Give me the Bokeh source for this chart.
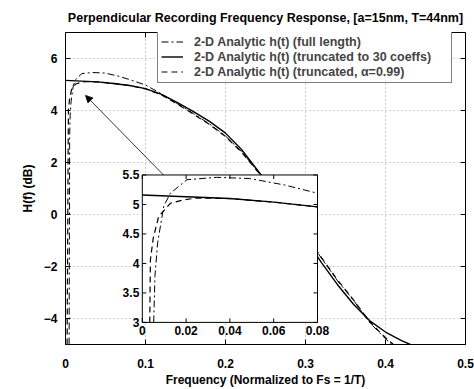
import numpy as np
from bokeh.plotting import figure
from bokeh.models import (Range1d, FixedTicker, NumeralTickFormatter,
                          Legend, LegendItem, Arrow, NormalHead)
from bokeh.core.properties import value
from bokeh.embed import file_html
from bokeh.resources import INLINE

# ---------------- data ----------------
TITLE = "Perpendicular Recording Frequency Response, [a=15nm, T=44nm]"
X_LABEL = "Frequency (Normalized to Fs = 1/T)"
Y_LABEL = "H(f) (dB)"
SERIES_NAMES = [
    "2-D Analytic h(t) (full length)",
    "2-D Analytic h(t) (truncated to 30 coeffs)",
    "2-D Analytic h(t) (truncated, \u03b1=0.99)",
]

# full length (dash-dot)
f_full = [0.0045, 0.0052, 0.0058, 0.007, 0.0098, 0.0128, 0.0204, 0.034, 0.049, 0.065, 0.08,
          0.10, 0.12, 0.14, 0.16, 0.18, 0.20, 0.22, 0.24, 0.26, 0.28, 0.30, 0.32,
          0.34, 0.36, 0.38, 0.40, 0.408]
h_full = [-5.0, 3.0, 3.8, 4.35, 4.97, 5.19, 5.42, 5.46, 5.44, 5.33, 5.19,
          4.98, 4.64, 4.26, 3.88, 3.48, 3.02, 2.42, 1.68, 0.92, 0.07, -0.82, -1.68,
          -2.55, -3.30, -4.15, -4.78, -5.0]

# truncated to 30 coeffs (solid)
f_trunc = [0.0, 0.02, 0.04, 0.06, 0.08, 0.10, 0.12, 0.14, 0.16, 0.18, 0.20, 0.22,
           0.24, 0.26, 0.28, 0.30, 0.32, 0.34, 0.36, 0.38, 0.40, 0.42, 0.431]
h_trunc = [5.16, 5.13, 5.10, 5.04, 4.96, 4.84, 4.62, 4.30, 3.96, 3.58, 3.13, 2.50,
           1.70, 0.90, 0.00, -0.95, -1.85, -2.70, -3.45, -4.08, -4.52, -4.85, -5.0]

# truncated, alpha = 0.99 (dashed)
f_alpha = [0.002, 0.0034, 0.0037, 0.005, 0.0075, 0.0128, 0.019, 0.025, 0.04, 0.06, 0.08,
           0.10, 0.12, 0.14, 0.16, 0.18, 0.20, 0.22, 0.24, 0.26, 0.28, 0.30, 0.32,
           0.34, 0.36, 0.38, 0.40, 0.41]
h_alpha = [-5.0, 3.0, 4.06, 4.43, 4.80, 5.02, 5.08, 5.11, 5.10, 5.04, 4.96,
           4.83, 4.60, 4.24, 3.86, 3.46, 3.00, 2.40, 1.66, 0.92, 0.08, -0.80, -1.66,
           -2.52, -3.28, -4.12, -4.74, -5.0]

X_TICKS = [0, 0.1, 0.2, 0.3, 0.4, 0.5]
Y_TICKS = [-4, -2, 0, 2, 4, 6]

INSET_X_TICKS = [0, 0.02, 0.04, 0.06, 0.08]
INSET_X_LABELS = ["0", "0.02", "0.04", "0.06", "0.08"]
INSET_Y_TICKS = [3, 3.5, 4, 4.5, 5, 5.5]
INSET_Y_LABELS = ["3", "3.5", "4", "4.5", "5", "5.5"]

# ---------------- layout constants ----------------
W, H = 474, 389
XR = (0.0, 0.5)
YR = (-5.0, 7.0)
IX = (0.0, 0.08)          # inset data limits
IY = (3.0, 5.5)
BOX = (0.096, 0.315, -4.15, 1.52)   # inset placement, in main data coords
ARROW_FROM = (0.1225, 1.52)
ARROW_TO = (0.025, 4.58)
TL = 5                    # tick length, px

FONT = "Liberation Sans"

# inset ranges spanning the whole frame so that the inset limits land on BOX
sx = (IX[1] - IX[0]) / (BOX[1] - BOX[0])
sy = (IY[1] - IY[0]) / (BOX[3] - BOX[2])
ix_range = Range1d(IX[0] + (XR[0] - BOX[0]) * sx, IX[0] + (XR[1] - BOX[0]) * sx)
iy_range = Range1d(IY[0] + (YR[0] - BOX[2]) * sy, IY[0] + (YR[1] - BOX[2]) * sy)

p = figure(width=W, height=H, x_range=Range1d(*XR), y_range=Range1d(*YR),
           output_backend="svg", toolbar_location=None,
           min_border_left=65, min_border_right=9, min_border_top=32, min_border_bottom=44,
           x_axis_label=X_LABEL, y_axis_label=Y_LABEL, title=TITLE)
p.extra_x_ranges = {"ix": ix_range}
p.extra_y_ranges = {"iy": iy_range}

p.background_fill_color = "white"
p.border_fill_color = "white"
p.outline_line_color = "black"
p.outline_line_width = 1

p.title.text_font = FONT
p.title.text_font_size = "12.5px"
p.title.text_font_style = "bold"
p.title.text_color = "black"
p.title.align = "center"
p.title.standoff = 16

p.xaxis.ticker = FixedTicker(ticks=X_TICKS)
p.xaxis.formatter = NumeralTickFormatter(format="0.[0]")
p.yaxis.ticker = FixedTicker(ticks=Y_TICKS)

for ax in p.axis:
    ax.major_tick_in = TL
    ax.major_tick_out = 0
    ax.minor_tick_line_color = None
    ax.axis_line_color = "black"
    ax.major_tick_line_color = "black"
    ax.major_label_text_font = FONT
    ax.major_label_text_font_style = "bold"
    ax.major_label_text_font_size = "12px"
    ax.major_label_text_color = "black"
    ax.axis_label_text_font = FONT
    ax.axis_label_text_font_style = "bold"
    ax.axis_label_text_font_size = "12px"
    ax.axis_label_text_color = "black"

p.xaxis.major_label_standoff = 14
p.xaxis.axis_label_standoff = 2
p.yaxis.major_label_standoff = 8
p.yaxis.axis_label_standoff = 6

p.grid.grid_line_color = "#a0a0a0"
p.grid.grid_line_dash = "1 3"
p.grid.grid_line_width = 1
p.xgrid.ticker = FixedTicker(ticks=X_TICKS)
p.ygrid.ticker = FixedTicker(ticks=Y_TICKS)

# inward ticks along the top and right edges of the box
p.ray(x=X_TICKS, y=[YR[1]] * len(X_TICKS), length=TL, length_units="screen",
      angle=-np.pi / 2, line_color="black")
p.ray(x=[XR[1]] * len(Y_TICKS), y=Y_TICKS, length=TL, length_units="screen",
      angle=np.pi, line_color="black")

DD = "7 3 2 3"
DA = "6 4"

r_full = p.line(f_full, h_full, line_color="black", line_width=1.0, line_dash=DD)
r_trunc = p.line(f_trunc, h_trunc, line_color="black", line_width=1.4)
r_alpha = p.line(f_alpha, h_alpha, line_color="black", line_width=1.2, line_dash=DA)

# ---------------- inset ----------------
p.quad(left=IX[0], right=IX[1], bottom=IY[0], top=IY[1], fill_color="white",
       line_color="black", line_width=1, x_range_name="ix", y_range_name="iy")


def clip(fs, hs):
    pts = [(f, h) for f, h in zip(fs, hs) if IX[0] <= f <= IX[1] and IY[0] <= h <= IY[1]]
    return [a for a, _ in pts], [b for _, b in pts]


for fs, hs, lw, dash in ((f_full, h_full, 1.0, DD), (f_trunc, h_trunc, 1.4, "solid"),
                         (f_alpha, h_alpha, 1.2, DA)):
    cf, ch = clip(fs, hs)
    p.line(cf, ch, line_color="black", line_width=lw, line_dash=dash,
           x_range_name="ix", y_range_name="iy")

n = len(INSET_X_TICKS)
p.ray(x=INSET_X_TICKS, y=[IY[0]] * n, length=4, length_units="screen", angle=np.pi / 2,
      line_color="black", x_range_name="ix", y_range_name="iy")
p.ray(x=INSET_X_TICKS, y=[IY[1]] * n, length=4, length_units="screen", angle=-np.pi / 2,
      line_color="black", x_range_name="ix", y_range_name="iy")
m = len(INSET_Y_TICKS)
p.ray(x=[IX[0]] * m, y=INSET_Y_TICKS, length=4, length_units="screen", angle=0,
      line_color="black", x_range_name="ix", y_range_name="iy")
p.ray(x=[IX[1]] * m, y=INSET_Y_TICKS, length=4, length_units="screen", angle=np.pi,
      line_color="black", x_range_name="ix", y_range_name="iy")

p.text(x=INSET_X_TICKS, y=[IY[0]] * n, text=INSET_X_LABELS, x_range_name="ix", y_range_name="iy",
       text_font=value(FONT), text_font_style="bold", text_font_size="12px",
       text_align="center", text_baseline="top", y_offset=4, text_color="black")
p.text(x=[IX[0]] * m, y=INSET_Y_TICKS, text=INSET_Y_LABELS, x_range_name="ix", y_range_name="iy",
       text_font=value(FONT), text_font_style="bold", text_font_size="12px",
       text_align="right", text_baseline="middle", x_offset=-3, text_color="black")

# arrow
p.add_layout(Arrow(end=NormalHead(size=7, fill_color="black", line_color="black", line_width=0.8),
                   x_start=ARROW_FROM[0], y_start=ARROW_FROM[1],
                   x_end=ARROW_TO[0], y_end=ARROW_TO[1],
                   line_color="black", line_width=0.8))

# legend
legend = Legend(items=[LegendItem(label=SERIES_NAMES[0], renderers=[r_full]),
                       LegendItem(label=SERIES_NAMES[1], renderers=[r_trunc]),
                       LegendItem(label=SERIES_NAMES[2], renderers=[r_alpha])],
                location=(92, 261), margin=0, padding=3, spacing=0,
                glyph_width=22, glyph_height=15, label_height=15, label_width=254,
                label_standoff=11,
                label_text_font=FONT, label_text_font_style="bold", label_text_font_size="12.5px",
                border_line_color="black", border_line_width=1,
                background_fill_color="white", background_fill_alpha=1.0)
p.add_layout(legend)

open("out.html", "w").write(file_html(p, INLINE))
